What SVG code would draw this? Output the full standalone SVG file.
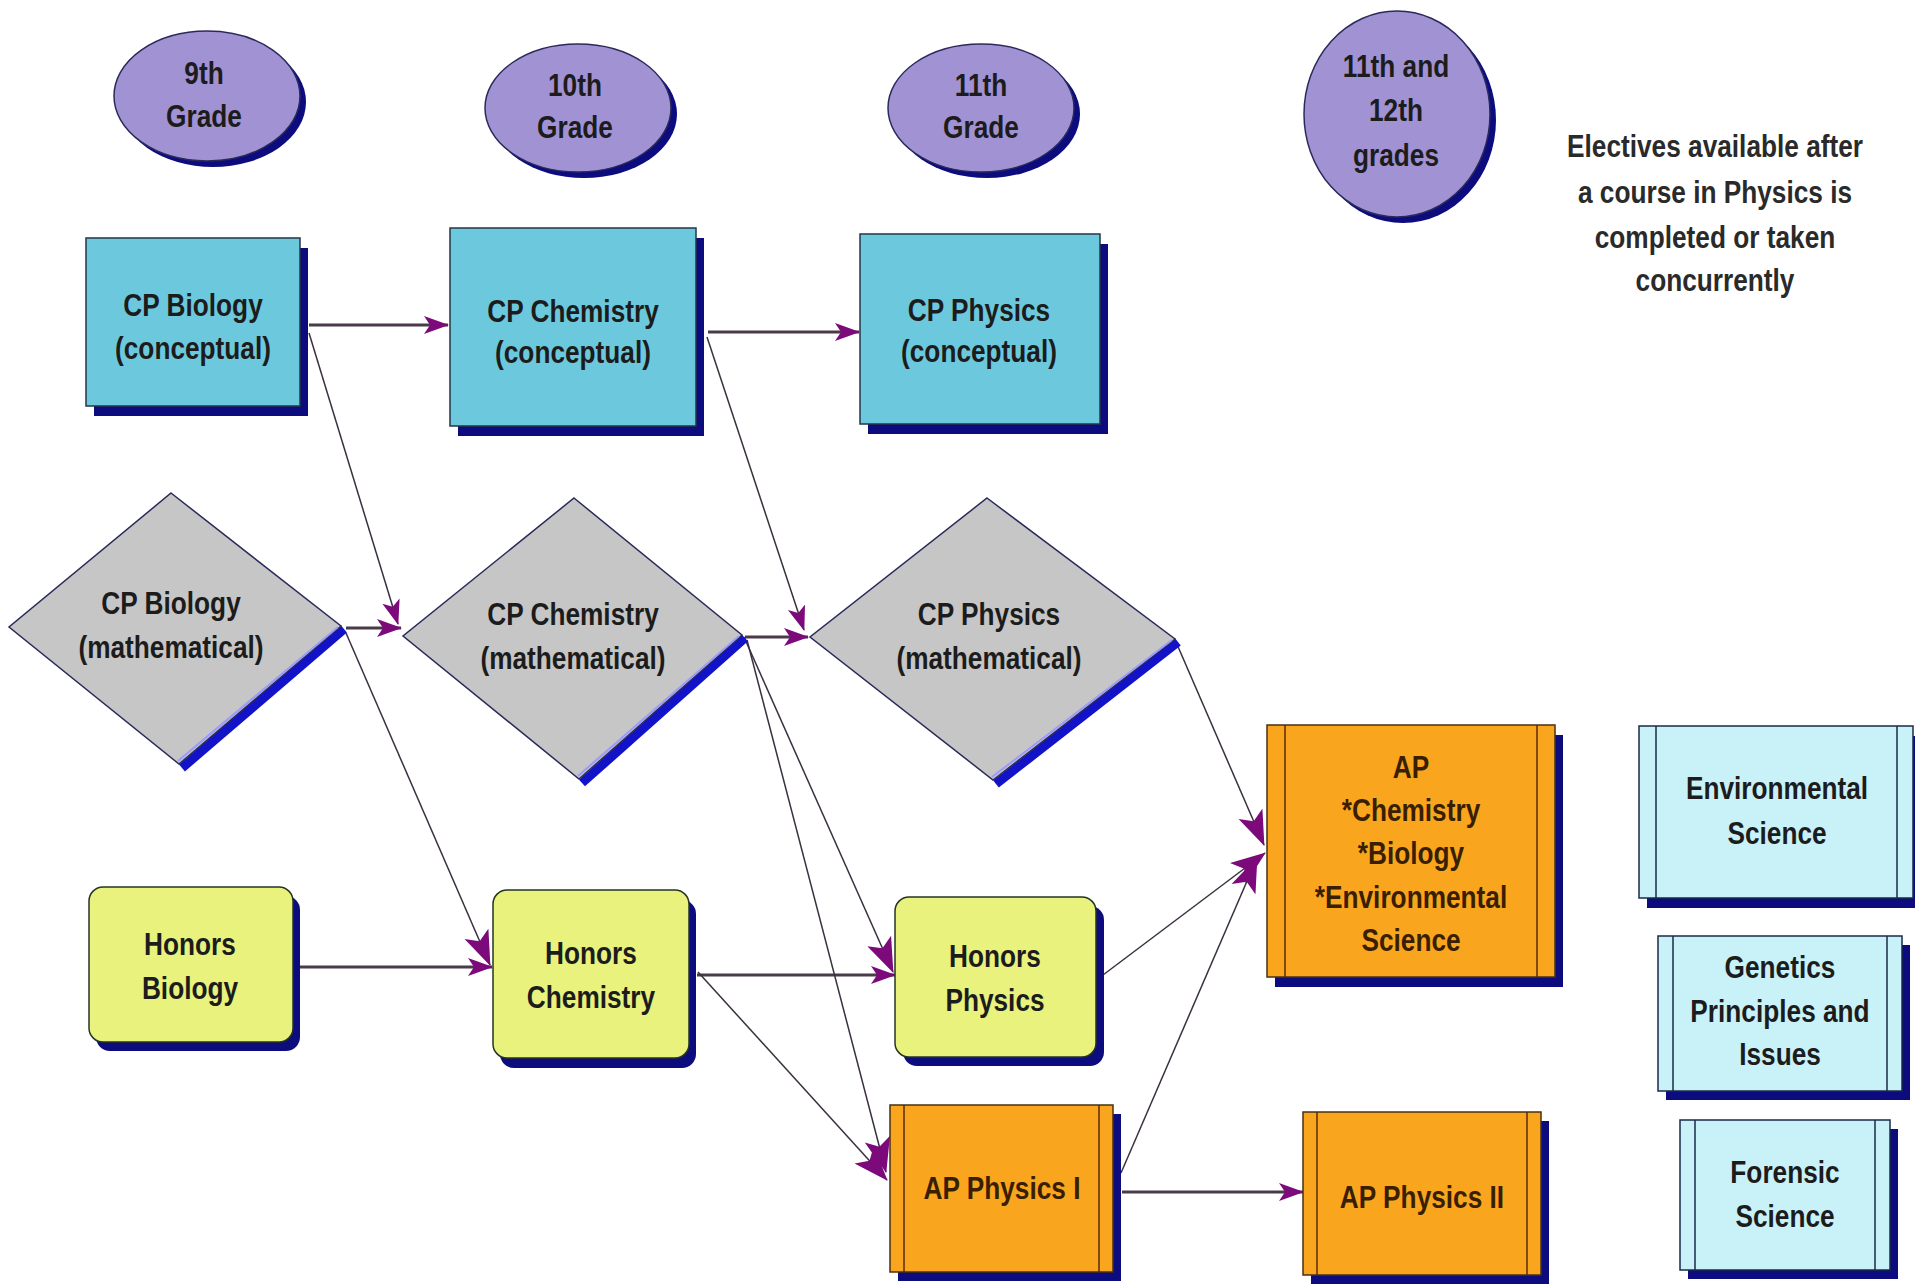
<svg xmlns="http://www.w3.org/2000/svg" width="1915" height="1285" viewBox="0 0 1915 1285">
<defs>
<style>
.t{font-family:"Liberation Sans",Arial,sans-serif;font-weight:bold;font-size:32px;fill:#1c1c1c;text-anchor:middle}
.to{fill:#3a1e00}
.sh{fill:#0c0c7e}
.ell{fill:#a192d4;stroke:#2a2a5a;stroke-width:1.5}
.cp{fill:#6cc9dd;stroke:#253545;stroke-width:1.5}
.dia{fill:#c6c6c6;stroke:#2a2a5a;stroke-width:1.5}
.edge{stroke:#1212c8;stroke-width:9;fill:none}
.edgeh{stroke:#9a9aff;stroke-width:2;fill:none}
.hon{fill:#e8f27c;stroke:#253525;stroke-width:1.5}
.ap{fill:#f9a61e;stroke:#4a3010;stroke-width:1.5}
.apl{stroke:#5a2a10;stroke-width:1.5}
.el{fill:#c9f1f8;stroke:#1a2a4a;stroke-width:1.5}
.ell2{stroke:#1a2a4a;stroke-width:1.5}
.h{stroke:#4a3a4a;stroke-width:3;fill:none}
.d{stroke:#3a3040;stroke-width:1.5;fill:none}
</style>
<marker id="ah" markerUnits="userSpaceOnUse" markerWidth="26" markerHeight="20" refX="24" refY="10" orient="auto">
<path d="M0,1 L25,10 L0,19 L6,10 z" fill="#7d0a7a"/>
</marker>
<marker id="ahL" markerUnits="userSpaceOnUse" markerWidth="36" markerHeight="28" refX="34" refY="14" orient="auto">
<path d="M0,1 L35,14 L0,27 L8,14 z" fill="#7d0a7a"/>
</marker>
</defs>
<rect width="1915" height="1285" fill="#ffffff"/>

<g id="connectors">
<line class="h" x1="309" y1="325" x2="448" y2="325" marker-end="url(#ah)"/>
<line class="h" x1="708" y1="332" x2="859" y2="332" marker-end="url(#ah)"/>
<line class="d" x1="309" y1="333" x2="398" y2="624" marker-end="url(#ah)"/>
<line class="h" x1="346" y1="628" x2="401" y2="628" marker-end="url(#ah)"/>
<line class="d" x1="707" y1="337" x2="804" y2="630" marker-end="url(#ah)"/>
<line class="h" x1="745" y1="637" x2="808" y2="637" marker-end="url(#ah)"/>
<line class="d" x1="346" y1="633" x2="490" y2="965" marker-end="url(#ahL)"/>
<line class="h" x1="295" y1="967" x2="492" y2="967" marker-end="url(#ah)"/>
<line class="d" x1="744" y1="637" x2="893" y2="972" marker-end="url(#ahL)"/>
<line class="h" x1="697" y1="975" x2="895" y2="975" marker-end="url(#ah)"/>
<line class="d" x1="747" y1="640" x2="886" y2="1172" marker-end="url(#ahL)"/>
<line class="d" x1="698" y1="972" x2="887" y2="1180" marker-end="url(#ahL)"/>
<line class="d" x1="1176" y1="642" x2="1264" y2="845" marker-end="url(#ahL)"/>
<line class="d" x1="1103" y1="975" x2="1265" y2="853" marker-end="url(#ahL)"/>
<line class="d" x1="1121" y1="1173" x2="1257" y2="858" marker-end="url(#ahL)"/>
<line class="h" x1="1122" y1="1192" x2="1303" y2="1192" marker-end="url(#ah)"/>
</g>

<g id="grade9">
<ellipse class="sh" cx="213" cy="102" rx="93" ry="65"/>
<ellipse class="ell" cx="207" cy="96" rx="93" ry="65"/>
<text class="t" transform="translate(204,0) scale(0.82,1)"><tspan x="0" y="84">9th</tspan><tspan x="0" y="127">Grade</tspan></text>
</g>
<g id="grade10">
<ellipse class="sh" cx="584" cy="114" rx="93" ry="64"/>
<ellipse class="ell" cx="578" cy="108" rx="93" ry="64"/>
<text class="t" transform="translate(575,0) scale(0.82,1)"><tspan x="0" y="96">10th</tspan><tspan x="0" y="138">Grade</tspan></text>
</g>
<g id="grade11">
<ellipse class="sh" cx="987" cy="114" rx="93" ry="64"/>
<ellipse class="ell" cx="981" cy="108" rx="93" ry="64"/>
<text class="t" transform="translate(981,0) scale(0.82,1)"><tspan x="0" y="96">11th</tspan><tspan x="0" y="138">Grade</tspan></text>
</g>
<g id="grade1112">
<ellipse class="sh" cx="1403" cy="120" rx="93" ry="103"/>
<ellipse class="ell" cx="1397" cy="114" rx="93" ry="103"/>
<text class="t" transform="translate(1396,0) scale(0.82,1)"><tspan x="0" y="77">11th and</tspan><tspan x="0" y="121">12th</tspan><tspan x="0" y="166">grades</tspan></text>
</g>
<g id="electives-note">
<text class="t" style="fill:#2a2a2a" transform="translate(1715,0) scale(0.82,1)"><tspan x="0" y="157">Electives available after</tspan><tspan x="0" y="203">a course in Physics is</tspan><tspan x="0" y="248">completed or taken</tspan><tspan x="0" y="291">concurrently</tspan></text>
</g>

<g id="cp-bio-conc">
<rect class="sh" x="94" y="248" width="214" height="168"/>
<rect class="cp" x="86" y="238" width="214" height="168"/>
<text class="t" transform="translate(193,0) scale(0.82,1)"><tspan x="0" y="316">CP Biology</tspan><tspan x="0" y="359">(conceptual)</tspan></text>
</g>
<g id="cp-chem-conc">
<rect class="sh" x="458" y="238" width="246" height="198"/>
<rect class="cp" x="450" y="228" width="246" height="198"/>
<text class="t" transform="translate(573,0) scale(0.82,1)"><tspan x="0" y="322">CP Chemistry</tspan><tspan x="0" y="363">(conceptual)</tspan></text>
</g>
<g id="cp-phys-conc">
<rect class="sh" x="868" y="244" width="240" height="190"/>
<rect class="cp" x="860" y="234" width="240" height="190"/>
<text class="t" transform="translate(979,0) scale(0.82,1)"><tspan x="0" y="321">CP Physics</tspan><tspan x="0" y="362">(conceptual)</tspan></text>
</g>

<g id="cp-bio-math">
<line class="edge" x1="344" y1="629" x2="182" y2="768"/>
<polygon class="dia" points="171,493 341,626 179,764 9,627"/>
<line class="edgeh" x1="338" y1="627" x2="178" y2="761"/>
<text class="t" transform="translate(171,0) scale(0.82,1)"><tspan x="0" y="614">CP Biology</tspan><tspan x="0" y="658">(mathematical)</tspan></text>
</g>
<g id="cp-chem-math">
<line class="edge" x1="745" y1="638" x2="582" y2="783"/>
<polygon class="dia" points="574,498 742,635 579,779 403,636"/>
<line class="edgeh" x1="739" y1="636" x2="578" y2="776"/>
<text class="t" transform="translate(573,0) scale(0.82,1)"><tspan x="0" y="625">CP Chemistry</tspan><tspan x="0" y="669">(mathematical)</tspan></text>
</g>
<g id="cp-phys-math">
<line class="edge" x1="1178" y1="642" x2="996" y2="784"/>
<polygon class="dia" points="987,498 1175,639 993,780 810,637"/>
<line class="edgeh" x1="1172" y1="640" x2="992" y2="777"/>
<text class="t" transform="translate(989,0) scale(0.82,1)"><tspan x="0" y="625">CP Physics</tspan><tspan x="0" y="669">(mathematical)</tspan></text>
</g>

<g id="honors-bio">
<rect class="sh" x="96" y="896" width="204" height="155" rx="14"/>
<rect class="hon" x="89" y="887" width="204" height="155" rx="14"/>
<text class="t" transform="translate(190,0) scale(0.82,1)"><tspan x="0" y="955">Honors</tspan><tspan x="0" y="999">Biology</tspan></text>
</g>
<g id="honors-chem">
<rect class="sh" x="500" y="900" width="196" height="168" rx="14"/>
<rect class="hon" x="493" y="890" width="196" height="168" rx="14"/>
<text class="t" transform="translate(591,0) scale(0.82,1)"><tspan x="0" y="964">Honors</tspan><tspan x="0" y="1008">Chemistry</tspan></text>
</g>
<g id="honors-phys">
<rect class="sh" x="903" y="906" width="201" height="160" rx="14"/>
<rect class="hon" x="895" y="897" width="201" height="160" rx="14"/>
<text class="t" transform="translate(995,0) scale(0.82,1)"><tspan x="0" y="967">Honors</tspan><tspan x="0" y="1011">Physics</tspan></text>
</g>

<g id="ap-multi">
<rect class="sh" x="1275" y="735" width="288" height="252"/>
<rect class="ap" x="1267" y="725" width="288" height="252"/>
<line class="apl" x1="1285" y1="725" x2="1285" y2="977"/>
<line class="apl" x1="1537" y1="725" x2="1537" y2="977"/>
<text class="t to" transform="translate(1411,0) scale(0.82,1)"><tspan x="0" y="778">AP</tspan><tspan x="0" y="821">*Chemistry</tspan><tspan x="0" y="864">*Biology</tspan><tspan x="0" y="908">*Environmental</tspan><tspan x="0" y="951">Science</tspan></text>
</g>
<g id="ap-phys1">
<rect class="sh" x="898" y="1114" width="223" height="167"/>
<rect class="ap" x="890" y="1105" width="223" height="167"/>
<line class="apl" x1="904" y1="1105" x2="904" y2="1272"/>
<line class="apl" x1="1099" y1="1105" x2="1099" y2="1272"/>
<text class="t to" transform="translate(1002,0) scale(0.82,1)"><tspan x="0" y="1199">AP Physics I</tspan></text>
</g>
<g id="ap-phys2">
<rect class="sh" x="1311" y="1121" width="238" height="163"/>
<rect class="ap" x="1303" y="1112" width="238" height="163"/>
<line class="apl" x1="1317" y1="1112" x2="1317" y2="1275"/>
<line class="apl" x1="1527" y1="1112" x2="1527" y2="1275"/>
<text class="t to" transform="translate(1422,0) scale(0.82,1)"><tspan x="0" y="1208">AP Physics II</tspan></text>
</g>

<g id="elective-env">
<rect class="sh" x="1647" y="736" width="274" height="172"/>
<rect class="el" x="1639" y="726" width="274" height="172"/>
<line class="ell2" x1="1656" y1="726" x2="1656" y2="898"/>
<line class="ell2" x1="1897" y1="726" x2="1897" y2="898"/>
<text class="t" transform="translate(1777,0) scale(0.82,1)"><tspan x="0" y="799">Environmental</tspan><tspan x="0" y="844">Science</tspan></text>
</g>
<g id="elective-genetics">
<rect class="sh" x="1666" y="945" width="244" height="155"/>
<rect class="el" x="1658" y="936" width="244" height="155"/>
<line class="ell2" x1="1673" y1="936" x2="1673" y2="1091"/>
<line class="ell2" x1="1887" y1="936" x2="1887" y2="1091"/>
<text class="t" transform="translate(1780,0) scale(0.82,1)"><tspan x="0" y="978">Genetics</tspan><tspan x="0" y="1022">Principles and</tspan><tspan x="0" y="1065">Issues</tspan></text>
</g>
<g id="elective-forensic">
<rect class="sh" x="1688" y="1129" width="210" height="150"/>
<rect class="el" x="1680" y="1120" width="210" height="150"/>
<line class="ell2" x1="1695" y1="1120" x2="1695" y2="1270"/>
<line class="ell2" x1="1875" y1="1120" x2="1875" y2="1270"/>
<text class="t" transform="translate(1785,0) scale(0.82,1)"><tspan x="0" y="1183">Forensic</tspan><tspan x="0" y="1227">Science</tspan></text>
</g>
</svg>
